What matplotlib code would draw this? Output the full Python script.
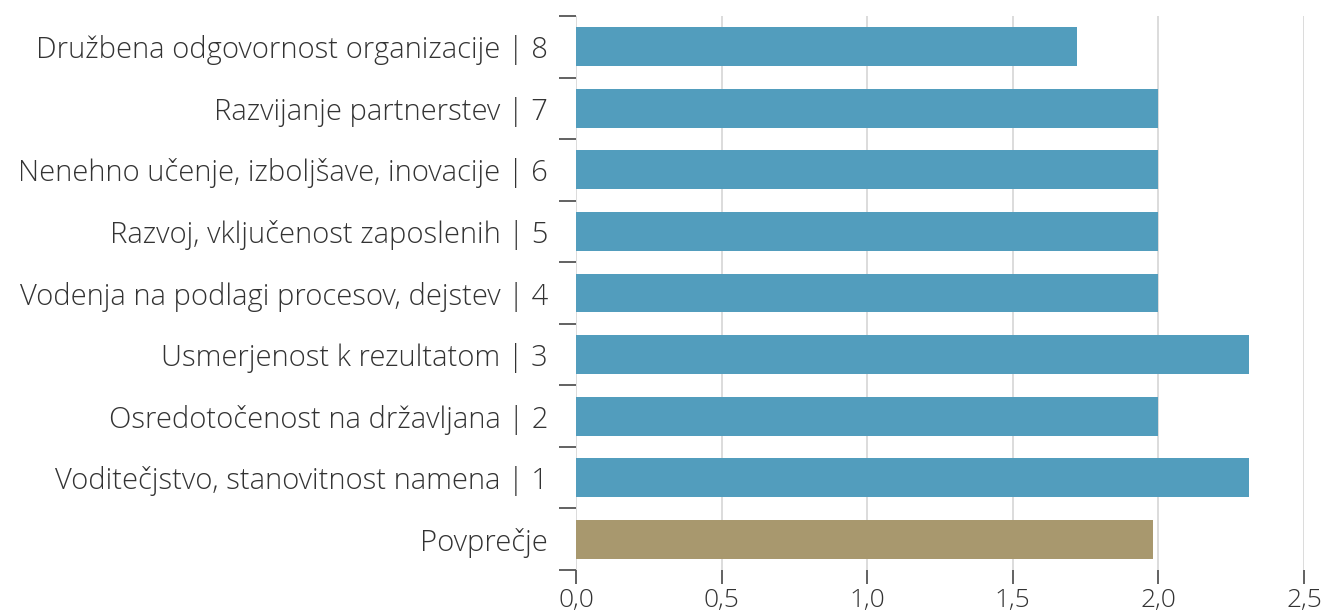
import numpy as np
import matplotlib.pyplot as plt
from matplotlib.ticker import FuncFormatter

# categories, top to bottom as shown
labels = [
    "Družbena odgovornost organizacije | 8",
    "Razvijanje partnerstev | 7",
    "Nenehno učenje, izboljšave, inovacije | 6",
    "Razvoj, vključenost zaposlenih | 5",
    "Vodenja na podlagi procesov, dejstev | 4",
    "Usmerjenost k rezultatom | 3",
    "Osredotočenost na državljana | 2",
    "Voditečjstvo, stanovitnost namena | 1",
    "Povprečje",
]
values = [1.72, 2.0, 2.0, 2.0, 2.0, 2.31, 2.0, 2.31, 1.98]
colors = ["#529dbd"] * 8 + ["#a8986e"]
xticks = [0.0, 0.5, 1.0, 1.5, 2.0, 2.5]

plt.rcParams['font.family'] = ['Open Sans', 'DejaVu Sans']
plt.rcParams['font.weight'] = 'light'

fig = plt.figure(figsize=(13.28, 6.15), dpi=100)
ax = fig.add_axes([576 / 1328, 1 - 570 / 615, (1304 - 576) / 1328, (570 - 16) / 615])

n = len(labels)
ypos = np.arange(n)[::-1]
ax.barh(ypos, values, height=0.63, color=colors, zorder=2)

ax.set_xlim(0, 2.5)
ax.set_ylim(-0.5, n - 0.5)
ax.set_xticks(xticks)
ax.xaxis.set_major_formatter(FuncFormatter(lambda v, p: f"{v:.1f}".replace(".", ",")))
ax.grid(axis="x", color="#d9d9d9", linewidth=1.3, zorder=0)

# boundary ticks on the y axis, labels at the bar centres
ax.set_yticks(np.arange(n + 1) - 0.5)
ax.set_yticklabels([])
ax.set_yticks(ypos, minor=True)
ax.set_yticklabels(labels, minor=True)
ax.tick_params(axis="y", which="major", length=12, width=1.3, color="#555555", direction="out")
ax.tick_params(axis="y", which="minor", length=0, pad=20, labelsize=21, labelcolor="#333333")
ax.tick_params(axis="x", length=10, width=1.3, color="#555555", pad=3, labelsize=19, labelcolor="#333333")

for s in ax.spines.values():
    s.set_visible(False)

fig.savefig("out.png", dpi=100)
